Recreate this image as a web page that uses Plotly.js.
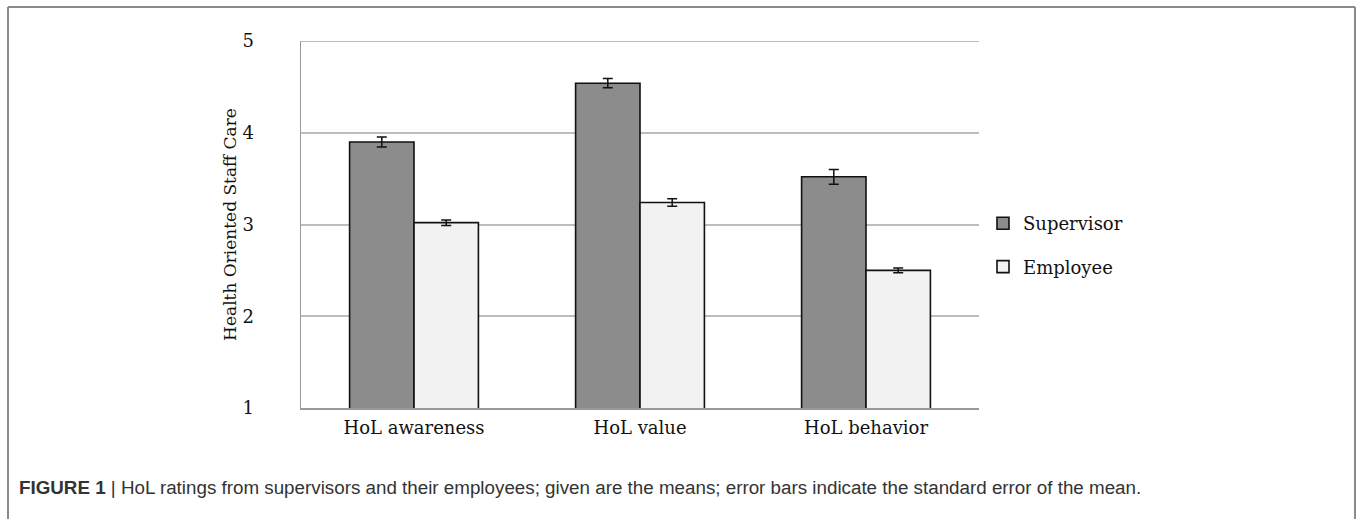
<!DOCTYPE html>
<html>
<head>
<meta charset="utf-8">
<script src="https://cdn.plot.ly/plotly-3.0.1.min.js"></script>
<style>
html,body{margin:0;padding:0;background:#fff;}
#chart{width:1357px;height:519px;}
</style>
</head>
<body>
<div id="chart"></div>
<script>
const categories = ["HoL awareness", "HoL value", "HoL behavior"];
const supervisorMeans = [3.90, 4.54, 3.52];
const supervisorSE = [0.055, 0.05, 0.08];
const employeeMeans = [3.02, 3.24, 2.50];
const employeeSE = [0.03, 0.04, 0.025];
const yTicks = [1, 2, 3, 4, 5];
const seriesNames = ["Supervisor", "Employee"];
const captionText = "<b>FIGURE 1</b> | HoL ratings from supervisors and their employees; given are the means; error bars indicate the standard error of the mean.";

const W = 1357, H = 519;
const M = {l: 301, r: 378, t: 41, b: 111};
const pw = W - M.l - M.r, ph = H - M.t - M.b;
const px = x => (x - M.l) / pw;
const py = y => (H - M.b - y) / ph;

const serif = "DejaVu Serif, serif";

const traces = [
  {
    type: "bar", name: seriesNames[0], x: categories, y: supervisorMeans,
    legendgroup: "a",
    marker: {color: "#8c8c8c", line: {color: "#111", width: 1.6}},
    error_y: {type: "data", array: supervisorSE, visible: true, color: "#111", thickness: 1.5, width: 5}
  },
  {
    type: "bar", name: seriesNames[1], x: categories, y: employeeMeans,
    legendgroup: "b",
    marker: {color: "#f2f2f2", line: {color: "#111", width: 1.6}},
    error_y: {type: "data", array: employeeSE, visible: true, color: "#111", thickness: 1.5, width: 5}
  }
];

const border = "#8a8a8a";
const layout = {
  width: W, height: H,
  margin: M,
  paper_bgcolor: "#fff", plot_bgcolor: "#fff",
  barmode: "group", bargap: 0.43, bargroupgap: 0,
  showlegend: true,
  legend: {
    x: px(983), y: py(205), xanchor: "left", yanchor: "top",
    font: {family: serif, size: 18, color: "#111"},
    tracegroupgap: 17, itemwidth: 30, bgcolor: "rgba(0,0,0,0)"
  },
  xaxis: {
    type: "category", showgrid: false, showline: true, linecolor: "#999", linewidth: 1.5,
    ticks: "", tickfont: {family: serif, size: 18, color: "#111"}, ticklabelstandoff: 3
  },
  yaxis: {
    range: [1, 5], tickvals: yTicks, showgrid: true, gridcolor: "#bdbdbd", gridwidth: 2,
    showline: true, linecolor: "#999", linewidth: 1.5, zeroline: false, ticks: "",
    tickfont: {family: serif, size: 18, color: "#111"}, ticklabelstandoff: 42,
    title: {text: "Health Oriented Staff Care", font: {family: serif, size: 17, color: "#111"}, standoff: 1}
  },
  shapes: [
    {type: "line", xref: "paper", yref: "y", x0: 0, x1: 1, y0: yTicks[yTicks.length - 1], y1: yTicks[yTicks.length - 1], line: {color: "#bdbdbd", width: 2}},
    {type: "line", xref: "paper", yref: "paper", x0: px(8), x1: px(8), y0: py(7), y1: py(530), line: {color: border, width: 2}},
    {type: "line", xref: "paper", yref: "paper", x0: px(8), x1: px(1355), y0: py(7), y1: py(7), line: {color: border, width: 2}},
    {type: "line", xref: "paper", yref: "paper", x0: px(1355), x1: px(1355), y0: py(7), y1: py(530), line: {color: border, width: 2}}
  ],
  annotations: [
    {xref: "paper", yref: "paper", x: px(17), y: py(487), xanchor: "left", yanchor: "middle",
     showarrow: false, text: captionText, font: {family: "Liberation Sans, Arial, sans-serif", size: 18.8, color: "#333"}}
  ]
};

Plotly.newPlot("chart", traces, layout, {displayModeBar: false, staticPlot: true});
</script>
</body>
</html>
